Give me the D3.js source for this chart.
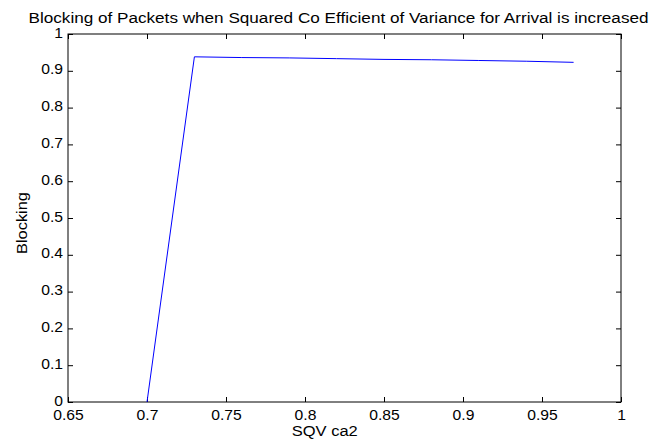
<!DOCTYPE html>
<html>
<head>
<meta charset="utf-8">
<script src="https://d3js.org/d3.v7.min.js"></script>
<style>
  body { margin: 0; background: #fff; }
  text { font-family: Arial, "Liberation Sans", sans-serif; fill: #000; }
</style>
</head>
<body>
  <div id="my_dataviz"></div>
  <script>
    var sqv = [0.70, 0.73, 0.76, 0.79, 0.82, 0.85, 0.88, 0.91, 0.94, 0.97];
    var blocking = [0, 0.938, 0.936, 0.935, 0.933, 0.931, 0.930, 0.928, 0.926, 0.923];
    var xTicks = [0.65, 0.7, 0.75, 0.8, 0.85, 0.9, 0.95, 1];
    var yTicks = [0, 0.1, 0.2, 0.3, 0.4, 0.5, 0.6, 0.7, 0.8, 0.9, 1];

    var margin = {top: 34, right: 40, bottom: 37, left: 68},
      width = 661 - margin.left - margin.right,
      height = 439 - margin.top - margin.bottom;

    var svg = d3.select("#my_dataviz")
      .append("svg")
      .attr("width", 661)
      .attr("height", 439)
      .append("g")
      .attr("transform", "translate(" + margin.left + "," + margin.top + ")");

    var x = d3.scaleLinear().domain([0.65, 1]).range([0, width]);
    var y = d3.scaleLinear().domain([0, 1]).range([height, 0]);

    var fmt = function (d) { return String(+d.toFixed(2)); };

    // bottom & left axes, ticks point inward like matlab
    var xAxis = svg.append("g")
      .attr("transform", "translate(0," + height + ")")
      .call(d3.axisBottom(x).tickValues(xTicks).tickFormat(fmt).tickSizeInner(-5).tickSizeOuter(0).tickPadding(8));
    var yAxis = svg.append("g")
      .call(d3.axisLeft(y).tickValues(yTicks).tickFormat(fmt).tickSizeInner(-5).tickSizeOuter(0).tickPadding(5));
    // top & right, ticks only
    var xTop = svg.append("g")
      .call(d3.axisTop(x).tickValues(xTicks).tickFormat("").tickSizeInner(-5).tickSizeOuter(0));
    var yRight = svg.append("g")
      .attr("transform", "translate(" + width + ",0)")
      .call(d3.axisRight(y).tickValues(yTicks).tickFormat("").tickSizeInner(-5).tickSizeOuter(0));

    [xAxis, yAxis, xTop, yRight].forEach(function (a) {
      a.select(".domain").remove();
      a.selectAll("line").attr("stroke", "#000");
      a.selectAll("text")
        .style("font-size", "14px")
        .style("font-family", "Arial, 'Liberation Sans', sans-serif");
    });
    // the reference glyphs are a bit wider
    xAxis.selectAll("text").attr("transform", "scale(1.12,1)");
    yAxis.selectAll("text").attr("transform", "scale(1.12,1)").attr("x", -5 / 1.12).attr("dy", "0.22em");

    svg.append("rect")
      .attr("width", width)
      .attr("height", height)
      .attr("fill", "none")
      .attr("stroke", "#000")
      .attr("stroke-width", 1);

    var line = d3.line()
      .x(function (d, i) { return x(sqv[i]); })
      .y(function (d) { return y(d); });

    svg.append("path")
      .datum(blocking)
      .attr("d", line)
      .attr("fill", "none")
      .attr("stroke", "#0000ff")
      .attr("stroke-width", 1);

    svg.append("text")
      .attr("x", width / 2 - 6)
      .attr("y", -11)
      .attr("text-anchor", "middle")
      .attr("textLength", 620)
      .attr("lengthAdjust", "spacingAndGlyphs")
      .style("font-size", "14px")
      .text("Blocking of Packets when Squared Co Efficient of Variance for Arrival is increased");

    svg.append("text")
      .attr("x", x(0.8125))
      .attr("y", height + 34)
      .attr("text-anchor", "middle")
      .attr("textLength", 66)
      .attr("lengthAdjust", "spacingAndGlyphs")
      .style("font-size", "14px")
      .text("SQV ca2");

    svg.append("text")
      .attr("transform", "translate(-41," + (223 - margin.top) + ") rotate(-90)")
      .attr("text-anchor", "middle")
      .attr("textLength", 62)
      .attr("lengthAdjust", "spacingAndGlyphs")
      .style("font-size", "14px")
      .text("Blocking");
  </script>
</body>
</html>
